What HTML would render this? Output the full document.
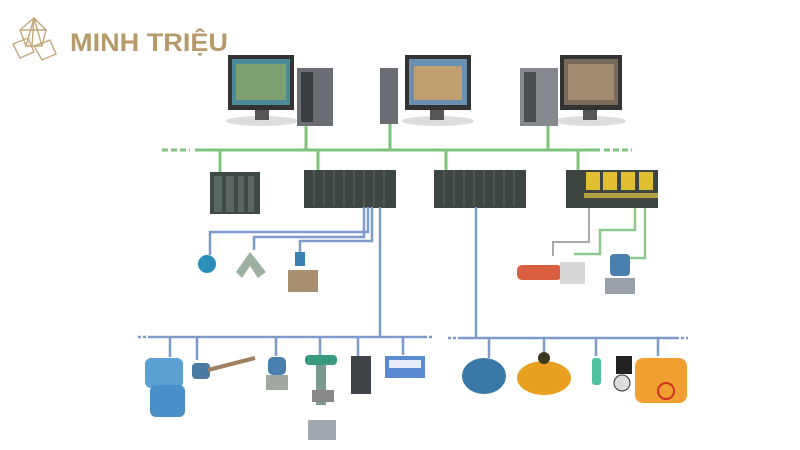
<!DOCTYPE html>
<html><head><meta charset="utf-8"><style>
html,body{margin:0;padding:0;background:#fff;}
svg{display:block}
</style></head><body>
<svg width="800" height="450" viewBox="0 0 800 450" xmlns="http://www.w3.org/2000/svg">
<rect width="800" height="450" fill="#fff"/>
<!-- logo -->
<g stroke="#c4a77a" stroke-width="1.4" fill="none">
<polygon points="20,30 34,18 46,30 42,46 26,46"/>
<polygon points="13,44 28,38 34,52 20,58"/>
<polygon points="34,46 50,40 56,54 42,60"/>
<line x1="34" y1="18" x2="32" y2="46"/><line x1="20" y1="30" x2="46" y2="30"/>
<line x1="26" y1="46" x2="34" y2="18"/><line x1="42" y1="46" x2="34" y2="18"/>
</g>
<text x="70" y="51" font-family="Liberation Sans, sans-serif" font-weight="bold" font-size="25" fill="#b8996a" textLength="158" lengthAdjust="spacingAndGlyphs">MINH TRIỆU</text>

<!-- PCs -->
<g>
<ellipse cx="262" cy="121" rx="36" ry="5" fill="#ddd"/>
<rect x="228" y="55" width="66" height="55" fill="#333"/><rect x="232" y="59" width="58" height="46" fill="#4a8a9a"/>
<rect x="236" y="64" width="50" height="36" fill="#7fa070"/>
<rect x="255" y="110" width="14" height="10" fill="#555"/>
<rect x="297" y="68" width="36" height="58" fill="#6a6d72"/><rect x="301" y="72" width="12" height="50" fill="#3a3d42"/>

<ellipse cx="438" cy="121" rx="36" ry="5" fill="#ddd"/>
<rect x="380" y="68" width="18" height="56" fill="#6a6d72"/>
<rect x="405" y="55" width="66" height="55" fill="#333"/><rect x="409" y="59" width="58" height="46" fill="#6a8fb0"/>
<rect x="414" y="66" width="48" height="34" fill="#c0a070"/>
<rect x="430" y="110" width="14" height="10" fill="#555"/>

<ellipse cx="590" cy="121" rx="36" ry="5" fill="#ddd"/>
<rect x="520" y="68" width="38" height="58" fill="#85888c"/><rect x="524" y="72" width="12" height="50" fill="#4a4d52"/>
<rect x="560" y="55" width="62" height="55" fill="#333"/><rect x="564" y="59" width="54" height="46" fill="#7a6a5a"/>
<rect x="568" y="64" width="46" height="36" fill="#a08a70"/>
<rect x="583" y="110" width="14" height="10" fill="#555"/>
</g>

<!-- green bus -->
<g stroke="#7cc47c" stroke-width="3" fill="none">
<line x1="195" y1="150" x2="600" y2="150"/>
<line x1="306" y1="126" x2="306" y2="150"/><line x1="390" y1="124" x2="390" y2="150"/><line x1="548" y1="126" x2="548" y2="150"/>
<line x1="220" y1="150" x2="220" y2="172"/><line x1="318" y1="150" x2="318" y2="170"/>
<line x1="446" y1="150" x2="446" y2="170"/><line x1="578" y1="150" x2="578" y2="170"/>
<line x1="162" y1="150" x2="190" y2="150" stroke-dasharray="6,3"/><line x1="604" y1="150" x2="632" y2="150" stroke-dasharray="6,3"/>
</g>

<!-- racks -->
<rect x="210" y="172" width="50" height="42" fill="#3f4a46"/>
<g fill="#5a6660"><rect x="214" y="176" width="8" height="36"/><rect x="226" y="176" width="8" height="36"/><rect x="238" y="176" width="6" height="36"/><rect x="248" y="176" width="6" height="36"/></g>
<rect x="304" y="170" width="92" height="38" fill="#3e4642"/>
<rect x="434" y="170" width="92" height="38" fill="#3e4642"/>
<g stroke="#5e6862" stroke-width="1">
<line x1="314" y1="170" x2="314" y2="206"/><line x1="324" y1="170" x2="324" y2="206"/><line x1="334" y1="170" x2="334" y2="206"/><line x1="344" y1="170" x2="344" y2="206"/><line x1="354" y1="170" x2="354" y2="206"/><line x1="364" y1="170" x2="364" y2="206"/><line x1="374" y1="170" x2="374" y2="206"/><line x1="384" y1="170" x2="384" y2="206"/>
<line x1="444" y1="170" x2="444" y2="206"/><line x1="454" y1="170" x2="454" y2="206"/><line x1="464" y1="170" x2="464" y2="206"/><line x1="474" y1="170" x2="474" y2="206"/><line x1="484" y1="170" x2="484" y2="206"/><line x1="494" y1="170" x2="494" y2="206"/><line x1="504" y1="170" x2="504" y2="206"/><line x1="514" y1="170" x2="514" y2="206"/>
</g>
<rect x="566" y="170" width="92" height="38" fill="#3e4642"/>
<g fill="#e0c030"><rect x="586" y="172" width="14" height="18"/><rect x="603" y="172" width="14" height="18"/><rect x="621" y="172" width="14" height="18"/><rect x="639" y="172" width="14" height="18"/></g>
<rect x="584" y="193" width="74" height="5" fill="#b0a040"/>

<!-- blue lines -->
<g stroke="#7b9ccc" stroke-width="2.5" fill="none">
<polyline points="368,207 368,232 210,232 210,255"/>
<polyline points="364,207 364,237 254,237 254,250"/>
<polyline points="372,207 372,241 300,241 300,252"/>
<line x1="380" y1="207" x2="380" y2="337"/>
<line x1="148" y1="337" x2="424" y2="337"/>
<line x1="170" y1="337" x2="170" y2="357"/><line x1="197" y1="337" x2="197" y2="360"/><line x1="276" y1="337" x2="276" y2="356"/><line x1="320" y1="337" x2="320" y2="355"/><line x1="358" y1="337" x2="358" y2="356"/><line x1="403" y1="337" x2="403" y2="355"/>
<line x1="476" y1="207" x2="476" y2="338"/>
<line x1="460" y1="338" x2="676" y2="338"/>
<line x1="489" y1="338" x2="489" y2="358"/><line x1="544" y1="338" x2="544" y2="356"/><line x1="596" y1="338" x2="596" y2="356"/><line x1="658" y1="338" x2="658" y2="356"/>
<line x1="138" y1="337" x2="148" y2="337" stroke-dasharray="3,2"/><line x1="424" y1="337" x2="434" y2="337" stroke-dasharray="3,2"/>
<line x1="448" y1="338" x2="460" y2="338" stroke-dasharray="3,2"/><line x1="676" y1="338" x2="688" y2="338" stroke-dasharray="3,2"/>
</g>
<!-- right gray/green -->
<polyline points="589,208 589,242 553,242 553,256" stroke="#aaa" stroke-width="2" fill="none"/>
<polyline points="635,208 635,230 600,230 600,254 574,254" stroke="#8cc88c" stroke-width="2.5" fill="none"/>
<polyline points="645,208 645,258 630,258" stroke="#8cc88c" stroke-width="2.5" fill="none"/>

<!-- field devices mid -->
<circle cx="207" cy="264" r="9" fill="#2a8fb8"/>
<polygon points="236,272 250,252 266,272 258,278 250,266 242,278" fill="#9bb0a0"/>
<rect x="288" y="270" width="30" height="22" fill="#a89070"/><rect x="295" y="252" width="10" height="14" fill="#3a80b0"/>
<rect x="517" y="265" width="45" height="15" rx="5" fill="#d86040"/><rect x="560" y="262" width="25" height="22" fill="#d8d8d8"/>
<rect x="610" y="254" width="20" height="22" rx="4" fill="#4a80b0"/><rect x="605" y="278" width="30" height="16" fill="#9aa0a8"/>

<!-- bottom left devices -->
<rect x="145" y="358" width="38" height="30" rx="6" fill="#5aa0d0"/><rect x="150" y="385" width="35" height="32" rx="6" fill="#4a90c8"/>
<rect x="192" y="363" width="18" height="16" rx="4" fill="#4a7aa0"/><line x1="208" y1="370" x2="255" y2="358" stroke="#a08060" stroke-width="4"/>
<rect x="268" y="357" width="18" height="18" rx="5" fill="#4a80b0"/><rect x="266" y="375" width="22" height="15" fill="#a0a8a0"/>
<rect x="305" y="355" width="32" height="10" rx="4" fill="#3a9a80"/><rect x="316" y="365" width="10" height="40" fill="#7a9a90"/><rect x="308" y="420" width="28" height="20" fill="#a0a8b0"/><rect x="312" y="390" width="22" height="12" fill="#888"/>
<rect x="351" y="356" width="20" height="38" fill="#404448"/>
<rect x="385" y="356" width="40" height="22" fill="#5a8ad0"/><rect x="389" y="360" width="32" height="8" fill="#e8eef8"/>

<!-- bottom right -->
<ellipse cx="484" cy="376" rx="22" ry="18" fill="#3a78a8"/>
<ellipse cx="544" cy="378" rx="27" ry="17" fill="#e8a020"/><circle cx="544" cy="358" r="6" fill="#3a3a20"/>
<rect x="592" y="358" width="9" height="27" rx="3" fill="#50c0a0"/>
<rect x="616" y="356" width="16" height="18" fill="#222"/><circle cx="622" cy="383" r="8" fill="#ddd" stroke="#333"/>
<rect x="635" y="358" width="52" height="45" rx="8" fill="#f0a030"/><circle cx="666" cy="391" r="8" fill="none" stroke="#d03020" stroke-width="2"/>
</svg>
</body></html>
